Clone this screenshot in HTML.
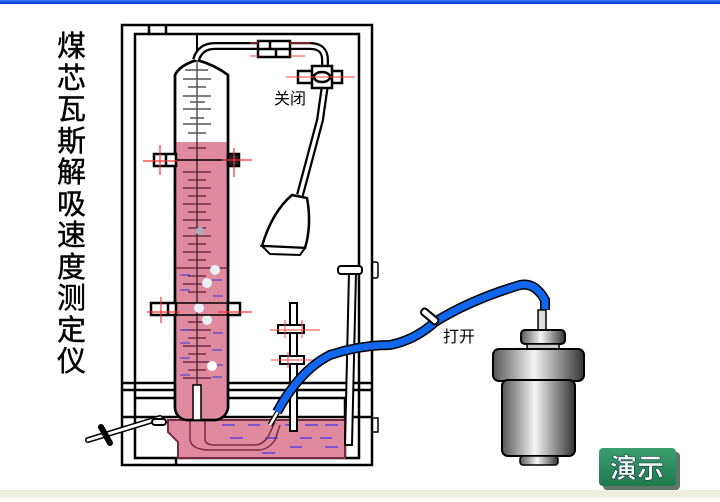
<!DOCTYPE html>
<html><head><meta charset="utf-8"><style>
body{margin:0;width:720px;height:497px;overflow:hidden;background:#fff;font-family:"Liberation Sans","Noto Sans CJK SC",sans-serif}
</style></head><body>
<svg width="720" height="497" viewBox="0 0 720 497" xmlns="http://www.w3.org/2000/svg">
<defs>
<linearGradient id="topbar" x1="0" y1="0" x2="0" y2="1"><stop offset="0" stop-color="#3a7bff"/><stop offset="1" stop-color="#0033cc"/></linearGradient>
<linearGradient id="metal" x1="0" y1="0" x2="1" y2="0"><stop offset="0" stop-color="#555"/><stop offset="0.45" stop-color="#f4f4f4"/><stop offset="1" stop-color="#333"/></linearGradient>
<linearGradient id="btn" x1="0" y1="0" x2="0" y2="1"><stop offset="0" stop-color="#3aa070"/><stop offset="1" stop-color="#1f7a4e"/></linearGradient>
</defs>
<rect x="0" y="0" width="720" height="4" fill="url(#topbar)"/>
<rect x="0" y="490" width="720" height="7" fill="#eeeedf"/>
<!-- title -->
<g font-family="'Liberation Sans','Noto Sans CJK SC',sans-serif" font-size="29" fill="#000" stroke="#000" stroke-width="0.4">
<text x="57" y="56">煤</text><text x="57" y="88">芯</text><text x="57" y="119">瓦</text><text x="57" y="151">斯</text><text x="57" y="182">解</text><text x="57" y="214">吸</text><text x="57" y="245">速</text><text x="57" y="277">度</text><text x="57" y="308">测</text><text x="57" y="340">定</text><text x="57" y="371">仪</text>
</g>
<g stroke="#000" stroke-width="2.5" fill="none">
<!-- frames -->
<rect x="122" y="25" width="250" height="440"/>
<rect x="135" y="34" width="224" height="424"/>
<line x1="149" y1="25" x2="149" y2="34"/><line x1="166" y1="25" x2="166" y2="34"/>
<line x1="122" y1="383" x2="372" y2="383"/><line x1="122" y1="390" x2="372" y2="390"/>
<line x1="135" y1="398" x2="345" y2="398"/><line x1="345" y1="398" x2="345" y2="458"/>
<line x1="122" y1="417" x2="372" y2="417"/>
<line x1="176" y1="458" x2="176" y2="465"/>
<rect x="372" y="418" width="6" height="14" stroke-width="1.5"/>
<rect x="372" y="262" width="6" height="16" rx="2" stroke-width="1.5"/>
</g>
<!-- trough water -->
<path d="M168 420 L345 420 L345 458 L178 458 L178 442 L168 432 Z" fill="#e08aa0" stroke="#7a2a40" stroke-width="2"/>
<g stroke="#1a1aff" stroke-width="1">
<line x1="222" y1="425" x2="235" y2="425"/><line x1="248" y1="425" x2="260" y2="425"/><line x1="285" y1="425" x2="298" y2="425"/><line x1="305" y1="425" x2="318" y2="425"/><line x1="325" y1="425" x2="338" y2="425"/>
<line x1="230" y1="438" x2="243" y2="438"/><line x1="265" y1="438" x2="278" y2="438"/><line x1="300" y1="438" x2="312" y2="438"/><line x1="320" y1="438" x2="332" y2="438"/>
<line x1="290" y1="447" x2="302" y2="447"/><line x1="325" y1="447" x2="338" y2="447"/><line x1="262" y1="453" x2="275" y2="453"/>
</g>
<!-- U tube -->
<path d="M190 410 L190 440 Q192 450 210 450 L258 450 Q268 450 275 440 L280 425" fill="none" stroke="#7a2a40" stroke-width="1.5"/>
<path d="M205 410 L205 440 Q206 445 215 445 L255 445 Q262 445 268 437 L275 422" fill="none" stroke="#7a2a40" stroke-width="1.5"/>
<!-- burette -->
<path d="M175 75 Q180 65 197 60 Q215 65 228 75 L228 408 Q226 418 216 420 L186 420 Q176 418 175 408 Z" fill="#fff" stroke="#000" stroke-width="2.5"/>
<path d="M176.5 142 L226.5 142 L226.5 408 Q225 417 216 418.5 L186 418.5 Q177 417 176.5 408 Z" fill="#e08aa0"/>
<path d="M175 75 Q180 65 197 60 Q215 65 228 75 L228 408 Q226 418 216 420 L186 420 Q176 418 175 408 Z" fill="none" stroke="#000" stroke-width="2.5"/>
<line x1="197" y1="62" x2="197" y2="385" stroke="#000" stroke-width="1"/>
<g stroke="#555" stroke-width="1.5">
<line x1="185" y1="70" x2="208" y2="70"/><line x1="183" y1="79" x2="211" y2="79"/><line x1="188" y1="87" x2="206" y2="87"/><line x1="183" y1="96" x2="211" y2="96"/><line x1="190" y1="102" x2="205" y2="102"/><line x1="183" y1="109" x2="211" y2="109"/><line x1="190" y1="118" x2="204" y2="118"/><line x1="183" y1="124" x2="211" y2="124"/><line x1="188" y1="133" x2="206" y2="133"/>
</g>
<g stroke="#5a1a30" stroke-width="1.2">
<line x1="188" y1="148" x2="206" y2="148"/><line x1="183" y1="172" x2="211" y2="172"/><line x1="188" y1="180" x2="206" y2="180"/><line x1="183" y1="188" x2="211" y2="188"/><line x1="188" y1="196" x2="206" y2="196"/><line x1="183" y1="204" x2="211" y2="204"/><line x1="188" y1="212" x2="206" y2="212"/><line x1="183" y1="220" x2="211" y2="220"/><line x1="188" y1="228" x2="206" y2="228"/><line x1="183" y1="236" x2="211" y2="236"/><line x1="188" y1="244" x2="206" y2="244"/><line x1="183" y1="252" x2="211" y2="252"/><line x1="188" y1="260" x2="206" y2="260"/><line x1="176" y1="268" x2="228" y2="268"/><line x1="188" y1="276" x2="206" y2="276"/><line x1="183" y1="284" x2="211" y2="284"/><line x1="188" y1="292" x2="206" y2="292"/><line x1="188" y1="322" x2="206" y2="322"/><line x1="183" y1="330" x2="211" y2="330"/><line x1="188" y1="338" x2="206" y2="338"/><line x1="183" y1="346" x2="211" y2="346"/><line x1="188" y1="354" x2="206" y2="354"/><line x1="183" y1="362" x2="211" y2="362"/><line x1="188" y1="370" x2="206" y2="370"/><line x1="183" y1="378" x2="211" y2="378"/>
</g>
<g stroke="#3333dd" stroke-width="1">
<line x1="180" y1="275" x2="190" y2="275"/><line x1="212" y1="280" x2="222" y2="280"/><line x1="180" y1="290" x2="190" y2="290"/><line x1="213" y1="296" x2="223" y2="296"/><line x1="180" y1="330" x2="190" y2="330"/><line x1="213" y1="333" x2="223" y2="333"/><line x1="180" y1="343" x2="190" y2="343"/><line x1="212" y1="350" x2="222" y2="350"/><line x1="180" y1="358" x2="190" y2="358"/><line x1="213" y1="365" x2="223" y2="365"/><line x1="180" y1="375" x2="190" y2="375"/><line x1="212" y1="377" x2="222" y2="377"/>
</g>
<rect x="193" y="385" width="8" height="35" fill="#fff" stroke="#000" stroke-width="1.5"/>
<g fill="#e8f0f6"><circle cx="200" cy="231" r="4" fill="#aab"/><circle cx="215" cy="270" r="5"/><circle cx="207" cy="283" r="5"/><circle cx="199" cy="308" r="5"/><circle cx="207" cy="320" r="5"/><circle cx="212" cy="366" r="5" fill="#fff"/></g>
<!-- clamps -->
<g stroke="#000" stroke-width="2.5" fill="#fff">
<rect x="154" y="154" width="22" height="12"/><line x1="166" y1="154" x2="166" y2="166"/>
<rect x="228" y="154" width="11" height="12" fill="#222"/>
<rect x="151" y="303" width="25" height="12"/><line x1="168" y1="303" x2="168" y2="315"/>
<rect x="228" y="303" width="12" height="12"/>
<line x1="176" y1="160" x2="228" y2="160" stroke-width="1.5"/>
<line x1="176" y1="303" x2="228" y2="303" stroke-width="1.5"/>
<line x1="176" y1="315" x2="228" y2="315" stroke-width="1.5"/>
</g>
<g stroke="#ff3030" stroke-width="1.2">
<line x1="143" y1="161" x2="177" y2="161"/><line x1="160" y1="145" x2="160" y2="175"/>
<line x1="222" y1="160" x2="252" y2="160"/><line x1="234" y1="148" x2="234" y2="177"/>
<line x1="147" y1="312" x2="180" y2="312"/><line x1="161" y1="297" x2="161" y2="323"/>
<line x1="218" y1="312" x2="252" y2="312"/>
</g>
<!-- top tube -->
<line x1="197" y1="35" x2="197" y2="60" stroke="#000" stroke-width="2"/>
<path d="M196 60 Q200 46 215 46 L310 46 Q325 46 325 60 L325 70" fill="none" stroke="#000" stroke-width="8"/>
<path d="M196 60 Q200 46 215 46 L310 46 Q325 46 325 60 L325 70" fill="none" stroke="#fff" stroke-width="3.5"/>
<g stroke="#000" stroke-width="2.5" fill="#fff">
<rect x="258" y="41" width="32" height="16"/><line x1="258" y1="49" x2="290" y2="49"/><line x1="270" y1="41" x2="270" y2="49"/><line x1="276" y1="49" x2="276" y2="57"/>
</g>
<g stroke="#ff4040" stroke-width="1"><line x1="250" y1="43" x2="258" y2="43"/><line x1="250" y1="56" x2="258" y2="56"/><line x1="290" y1="43" x2="310" y2="43"/><line x1="290" y1="56" x2="305" y2="56"/></g>
<!-- tube down to bulb -->
<path d="M325 85 L320 120 L300 195" fill="none" stroke="#000" stroke-width="8"/>
<path d="M325 85 L320 120 L300 195" fill="none" stroke="#fff" stroke-width="3.5"/>
<g stroke="#000" stroke-width="2.5" fill="#fff">
<rect x="298" y="71" width="44" height="12"/><rect x="312" y="66" width="20" height="22"/><ellipse cx="322" cy="77" rx="8" ry="5"/>
</g>
<line x1="286" y1="77" x2="355" y2="77" stroke="#ff4040" stroke-width="1"/>
<path d="M292 195 L307 198 Q312 225 305 248 L262 246 Q272 212 292 195 Z" fill="#fff" stroke="#000" stroke-width="2.5"/>
<path d="M262 246 L305 248 L300 255 L270 254 Z" fill="#fff" stroke="#000" stroke-width="2"/>
<text x="274" y="104" font-size="16" fill="#000">关闭</text>
<!-- stand rod right -->
<path d="M349 272 L345 445 L352 445 L356 272 Z" fill="#fff" stroke="#000" stroke-width="2"/>
<rect x="338" y="266" width="24" height="8" rx="3" fill="#fff" stroke="#000" stroke-width="2"/>
<!-- small clamp rod -->
<rect x="290" y="303" width="7" height="128" fill="#fff" stroke="#000" stroke-width="2"/>
<rect x="278" y="325" width="26" height="8" fill="#fff" stroke="#000" stroke-width="2"/>
<rect x="280" y="356" width="24" height="8" fill="#fff" stroke="#000" stroke-width="2"/>
<g stroke="#ff4040" stroke-width="1"><line x1="270" y1="330" x2="320" y2="330"/><line x1="285" y1="320" x2="285" y2="338"/><line x1="302" y1="320" x2="302" y2="338"/><line x1="271" y1="360" x2="315" y2="360"/><line x1="288" y1="352" x2="288" y2="368"/></g>
<!-- drain nozzle -->
<path d="M88 440 L160 418" stroke="#000" stroke-width="6" stroke-linecap="round"/>
<path d="M88 440 L160 418" stroke="#fff" stroke-width="3" stroke-linecap="round"/>
<path d="M101 427 L110 443" stroke="#000" stroke-width="6" stroke-linecap="round"/>
<rect x="152" y="419" width="14" height="6" rx="3" fill="#fff" stroke="#000" stroke-width="2"/>
<!-- glass tip to hose -->
<path d="M270 425 L280 408" stroke="#000" stroke-width="5"/>
<path d="M270 425 L280 408" stroke="#fff" stroke-width="2.5"/>
<!-- blue hose -->
<path d="M277 412 Q300 370 330 355 Q360 345 390 345 Q415 340 435 322 Q470 300 520 285 Q535 282 545 300 L545 310" fill="none" stroke="#000" stroke-width="10"/>
<path d="M277 412 Q300 370 330 355 Q360 345 390 345 Q415 340 435 322 Q470 300 520 285 Q535 282 545 300 L545 310" fill="none" stroke="#1166ee" stroke-width="7"/>
<rect x="420" y="313" width="20" height="7" rx="3" fill="#fff" stroke="#000" stroke-width="2" transform="rotate(40 430 316)"/>
<text x="443" y="342" font-size="16" fill="#000">打开</text>
<!-- canister -->
<rect x="538" y="310" width="8" height="22" fill="#ddd" stroke="#000" stroke-width="1.5"/>
<rect x="521" y="330" width="44" height="14" rx="4" fill="url(#metal)" stroke="#000" stroke-width="2"/>
<rect x="527" y="344" width="32" height="5" fill="#ccc" stroke="#000" stroke-width="1.5"/>
<rect x="493" y="349" width="91" height="32" rx="6" fill="url(#metal)" stroke="#000" stroke-width="2"/>
<rect x="502" y="380" width="73" height="76" rx="6" fill="url(#metal)" stroke="#000" stroke-width="2"/>
<rect x="520" y="456" width="38" height="9" rx="3" fill="url(#metal)" stroke="#000" stroke-width="1.5"/>
<!-- button -->
<rect x="603" y="452" width="77" height="38" rx="4" fill="#1a3a2a" opacity="0.7"/>
<rect x="599" y="448" width="77" height="38" rx="4" fill="url(#btn)"/>
<text x="637" y="478" font-size="27" font-weight="bold" fill="#fff" stroke="#134" stroke-width="0.6" text-anchor="middle">演示</text>
</svg>
</body></html>
